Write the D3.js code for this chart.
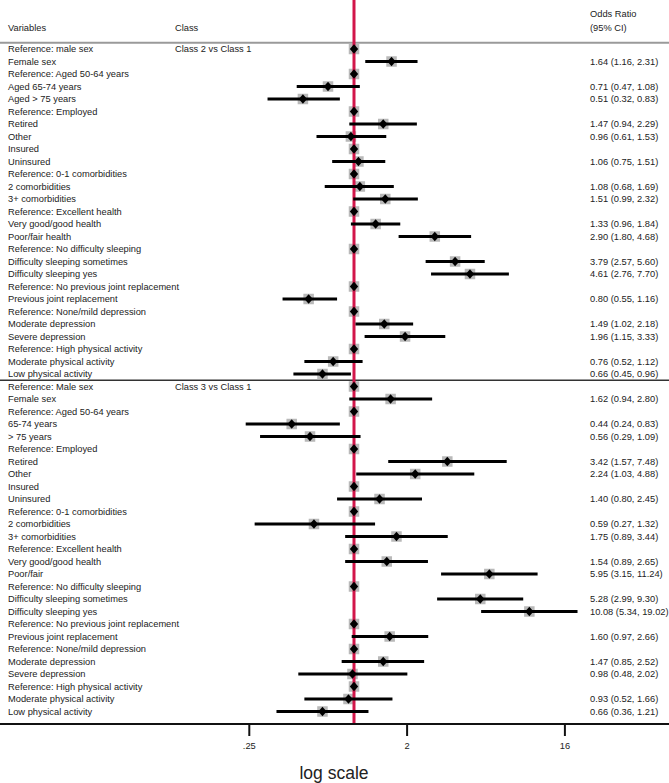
<!DOCTYPE html>
<html>
<head>
<meta charset="utf-8">
<script src="https://cdn.jsdelivr.net/npm/d3@7"></script>
<style>
  html, body { margin: 0; padding: 0; background: #fff; }
  svg { display: block; font-family: "Liberation Sans", Arial, sans-serif; }
</style>
</head>
<body>
<svg id="chart" width="669" height="783"></svg>
<script>
// ---------- data ----------
const classLabels = ["Class 2 vs Class 1", "Class 3 vs Class 1"];

const variables1 = [
  "Reference: male sex", "Female sex", "Reference: Aged 50-64 years", "Aged 65-74 years", "Aged > 75 years",
  "Reference: Employed", "Retired", "Other", "Insured", "Uninsured",
  "Reference: 0-1 comorbidities", "2 comorbidities", "3+ comorbidities",
  "Reference: Excellent health", "Very good/good health", "Poor/fair health",
  "Reference: No difficulty sleeping", "Difficulty sleeping sometimes", "Difficulty sleeping yes",
  "Reference: No previous joint replacement", "Previous joint replacement",
  "Reference: None/mild depression", "Moderate depression", "Severe depression",
  "Reference: High physical activity", "Moderate physical activity", "Low physical activity"
];
// marks as drawn in the picture (point estimate, lower, upper)
const or1 = [1, 1.64, 1, 0.71, 0.51, 1, 1.47, 0.96, 1, 1.06, 1, 1.08, 1.51, 1, 1.33, 2.90, 1, 3.79, 4.61, 1, 0.55, 1, 1.49, 1.96, 1, 0.76, 0.66];
const lo1 = [null, 1.16, null, 0.47, 0.32, null, 0.94, 0.61, null, 0.75, null, 0.68, 0.99, null, 0.96, 1.80, null, 2.57, 2.76, null, 0.39, null, 1.02, 1.15, null, 0.52, 0.45];
const hi1 = [null, 2.31, null, 1.08, 0.83, null, 2.29, 1.53, null, 1.51, null, 1.69, 2.32, null, 1.84, 4.68, null, 5.60, 7.70, null, 0.80, null, 2.18, 3.33, null, 1.12, 0.96];
// printed odds ratio column
const orText1 = ["", "1.64 (1.16, 2.31)", "", "0.71 (0.47, 1.08)", "0.51 (0.32, 0.83)", "", "1.47 (0.94, 2.29)",
  "0.96 (0.61, 1.53)", "", "1.06 (0.75, 1.51)", "", "1.08 (0.68, 1.69)", "1.51 (0.99, 2.32)", "",
  "1.33 (0.96, 1.84)", "2.90 (1.80, 4.68)", "", "3.79 (2.57, 5.60)", "4.61 (2.76, 7.70)", "",
  "0.80 (0.55, 1.16)", "", "1.49 (1.02, 2.18)", "1.96 (1.15, 3.33)", "", "0.76 (0.52, 1.12)", "0.66 (0.45, 0.96)"];

const variables2 = [
  "Reference: Male sex", "Female sex", "Reference: Aged 50-64 years", "65-74 years", "> 75 years",
  "Reference: Employed", "Retired", "Other", "Insured", "Uninsured",
  "Reference: 0-1 comorbidities", "2 comorbidities", "3+ comorbidities",
  "Reference: Excellent health", "Very good/good health", "Poor/fair",
  "Reference: No difficulty sleeping", "Difficulty sleeping  sometimes", "Difficulty sleeping yes",
  "Reference: No previous joint replacement", "Previous joint replacement",
  "Reference: None/mild depression", "Moderate depression", "Severe depression",
  "Reference: High physical activity", "Moderate physical activity", "Low physical activity"
];
const or2 = [1, 1.62, 1, 0.44, 0.56, 1, 3.42, 2.24, 1, 1.40, 1, 0.59, 1.75, 1, 1.54, 5.95, 1, 5.28, 10.08, 1, 1.60, 1, 1.47, 0.98, 1, 0.93, 0.66];
const lo2 = [null, 0.94, null, 0.24, 0.29, null, 1.57, 1.03, null, 0.80, null, 0.27, 0.89, null, 0.89, 3.15, null, 2.99, 5.34, null, 0.97, null, 0.85, 0.48, null, 0.52, 0.36];
const hi2 = [null, 2.80, null, 0.83, 1.09, null, 7.48, 4.88, null, 2.45, null, 1.32, 3.44, null, 2.65, 11.24, null, 9.30, 19.02, null, 2.66, null, 2.52, 2.02, null, 1.66, 1.21];
const orText2 = ["", "1.62 (0.94, 2.80)", "", "0.44 (0.24, 0.83)", "0.56 (0.29, 1.09)", "", "3.42 (1.57, 7.48)",
  "2.24 (1.03, 4.88)", "", "1.40 (0.80, 2.45)", "", "0.59 (0.27, 1.32)", "1.75 (0.89, 3.44)", "",
  "1.54 (0.89, 2.65)", "5.95 (3.15, 11.24)", "", "5.28 (2.99, 9.30)", "10.08 (5.34, 19.02)", "",
  "1.60 (0.97, 2.66)", "", "1.47 (0.85, 2.52)", "0.98 (0.48, 2.02)", "", "0.93 (0.52, 1.66)", "0.66 (0.36, 1.21)"];

const tickValues = [0.25, 2, 16];
const tickLabels = [".25", "2", "16"];

// ---------- build rows ----------
const rows = [];
variables1.forEach((v, i) => rows.push({label: v, or: or1[i], lo: lo1[i], hi: hi1[i], txt: orText1[i], cls: i === 0 ? classLabels[0] : ""}));
variables2.forEach((v, i) => rows.push({label: v, or: or2[i], lo: lo2[i], hi: hi2[i], txt: orText2[i], cls: i === 0 ? classLabels[1] : ""}));
rows.forEach((r, i) => r.idx = i);

// ---------- layout ----------
const W = 669, H = 783;
const svg = d3.select("#chart");
const textColor = "#222";
const fs = 9.3;

const x = d3.scaleLog().base(2).domain([0.125, 32]).range([196.2, 617]);
const y = d3.scaleBand().domain(rows.map(r => r.idx)).range([42.75, 42.75 + rows.length * 12.5]);
const yc = i => y(i) + y.bandwidth() / 2;
const axisY = 724;

// header
svg.append("text").attr("x", 8).attr("y", 28).attr("dy", "0.35em").attr("font-size", fs).attr("fill", textColor).text("Variables");
svg.append("text").attr("x", 175).attr("y", 28).attr("dy", "0.35em").attr("font-size", fs).attr("fill", textColor).text("Class");
svg.append("text").attr("x", 590).attr("y", 14).attr("dy", "0.35em").attr("font-size", fs).attr("fill", textColor).text("Odds Ratio");
svg.append("text").attr("x", 590).attr("y", 28).attr("dy", "0.35em").attr("font-size", fs).attr("fill", textColor).text("(95% CI)");

// header separator
svg.append("line").attr("x1", 0).attr("x2", W).attr("y1", y(0)).attr("y2", y(0))
  .attr("stroke", "#9a9a9a").attr("stroke-width", 2);
// group separator
svg.append("line").attr("x1", 0).attr("x2", W).attr("y1", y(variables1.length)).attr("y2", y(variables1.length))
  .attr("stroke", "#333").attr("stroke-width", 1.5);

// labels
const lab = svg.append("g").attr("font-size", fs).attr("fill", textColor);
lab.selectAll("text.var").data(rows).join("text").attr("class", "var")
  .attr("x", 8).attr("y", d => yc(d.idx)).attr("dy", "0.35em").text(d => d.label);
lab.selectAll("text.cls").data(rows.filter(r => r.cls)).join("text").attr("class", "cls")
  .attr("x", 175).attr("y", d => yc(d.idx)).attr("dy", "0.35em").text(d => d.cls);
lab.selectAll("text.or").data(rows.filter(r => r.txt)).join("text").attr("class", "or")
  .attr("x", 590).attr("y", d => yc(d.idx)).attr("dy", "0.35em").text(d => d.txt);

// grey boxes
const bs = 10.5;
svg.append("g").selectAll("rect").data(rows).join("rect")
  .attr("x", d => x(d.or) - bs / 2).attr("y", d => yc(d.idx) - bs / 2)
  .attr("width", bs).attr("height", bs).attr("fill", "#b9b9b9");

// reference line at 1
svg.append("line").attr("x1", x(1)).attr("x2", x(1)).attr("y1", 0).attr("y2", axisY)
  .attr("stroke", "#d2164a").attr("stroke-width", 3);

// CI lines
svg.append("g").selectAll("line").data(rows.filter(r => r.lo !== null)).join("line")
  .attr("x1", d => x(d.lo)).attr("x2", d => x(d.hi))
  .attr("y1", d => yc(d.idx)).attr("y2", d => yc(d.idx))
  .attr("stroke", "#000").attr("stroke-width", 3);

// diamonds
svg.append("g").selectAll("path").data(rows).join("path")
  .attr("d", d => {
    const cx = x(d.or), cy = yc(d.idx);
    return `M${cx - 4.2},${cy} L${cx},${cy - 4.8} L${cx + 4.2},${cy} L${cx},${cy + 4.8} Z`;
  })
  .attr("fill", "#000");

// axis
svg.append("line").attr("x1", 0).attr("x2", W).attr("y1", axisY).attr("y2", axisY)
  .attr("stroke", "#111").attr("stroke-width", 2);
const axis = d3.axisBottom(x).tickValues(tickValues)
  .tickFormat((d, i) => tickLabels[i]).tickSize(12).tickPadding(6);
const ag = svg.append("g").attr("transform", `translate(0,${axisY})`).call(axis);
ag.select(".domain").remove();
ag.selectAll(".tick line").attr("stroke", "#111").attr("stroke-width", 2);
ag.selectAll(".tick text").attr("font-size", fs).attr("fill", textColor)
  .attr("font-family", "Liberation Sans, Arial, sans-serif");

svg.append("text").attr("x", 334).attr("y", 779).attr("text-anchor", "middle")
  .attr("font-size", 17.5).attr("fill", textColor).text("log scale");
</script>
</body>
</html>
